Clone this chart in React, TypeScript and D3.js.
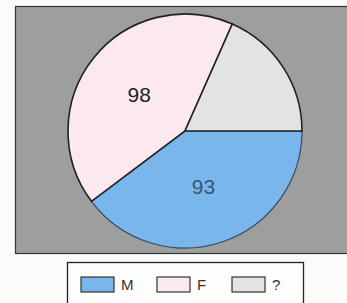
import React from "react";
import { pie, arc, PieArcDatum } from "d3";

// slice values
const categories = ["M", "F", "?"];
const counts = [93, 98, 43];
const sliceLabels = ["93", "98", ""];
const colors = ["#78b6ec", "#fce9ef", "#e3e3e3"];
const labelColors = ["#3b5670", "#222222", "#222222"];

const W = 347;
const H = 303;
const cx = 185;
const cy = 131;
const R = 117;

type Slice = { name: string; value: number; label: string; i: number };

function App() {
  const data: Slice[] = categories.map((name, i) => ({
    name,
    value: counts[i],
    label: sliceLabels[i],
    i,
  }));

  // first slice starts at 3 o'clock, going clockwise
  const pieGen = pie<Slice>()
    .value((d) => d.value)
    .sort(null)
    .startAngle(Math.PI / 2)
    .endAngle(Math.PI / 2 + Math.PI * 2);
  const arcs = pieGen(data);
  const arcGen = arc<PieArcDatum<Slice>>().innerRadius(0).outerRadius(R);

  const legendX = [81, 157, 232];

  return (
    <svg
      width={W}
      height={H}
      style={{ position: "absolute", left: 0, top: 0, background: "#fbfbf9" }}
      fontFamily="Liberation Sans, Arial, sans-serif"
    >
      <rect x={15.5} y={6.5} width={340} height={247} fill="#9d9e9e" stroke="#333" strokeWidth={1.2} />
      <g transform={`translate(${cx},${cy})`}>
        {arcs.map((a) => (
          <path
            key={a.data.name}
            d={arcGen(a) || ""}
            fill={colors[a.data.i]}
            stroke={a.data.i === 0 ? "#3a4a60" : "#222"}
            strokeWidth={a.data.i === 0 ? 1.2 : 1.6}
          />
        ))}
        {arcs.map((a) => {
          const [x, y] = arcGen.centroid(a);
          return (
            <text
              key={"t" + a.data.name}
              x={x}
              y={y}
              textAnchor="middle"
              dominantBaseline="central"
              fontSize={21}
              fill={labelColors[a.data.i]}
            >
              {a.data.label}
            </text>
          );
        })}
      </g>
      <rect x={67.5} y={262.5} width={236} height={50} fill="#fdfdfc" stroke="#222" strokeWidth={1.3} />
      {categories.map((c, i) => (
        <g key={c}>
          <rect
            x={legendX[i]}
            y={277}
            width={33}
            height={15}
            fill={colors[i]}
            stroke="#333"
            strokeWidth={1.2}
          />
          <text x={legendX[i] + 40} y={290} fontSize={15} fill="#333">
            {c}
          </text>
        </g>
      ))}
    </svg>
  );
}

export default App;
